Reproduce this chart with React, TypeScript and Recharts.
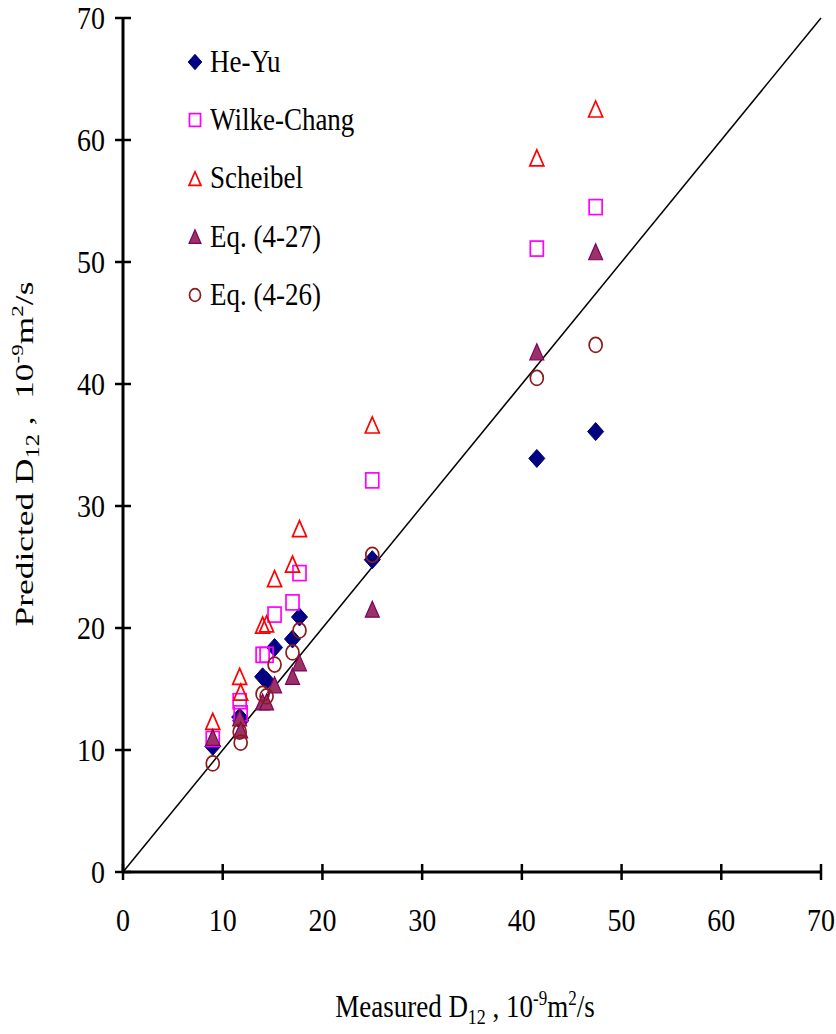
import React from "react";
import {
  Legend,
  ReferenceLine,
  Scatter,
  ScatterChart,
  XAxis,
  YAxis,
} from "recharts";

// measured diffusivities, 10^-9 m2/s
const measured = [9.0, 11.7, 11.8, 14.0, 14.4, 15.2, 17.0, 17.7, 25.0, 41.5, 47.4];

// predicted values for each correlation, same order as measured
const heYu = [10.3, 12.7, 12.4, 16.0, 15.7, 18.4, 19.1, 20.9, 25.6, 33.9, 36.1];
const wilkeChang = [10.9, 14.0, 13.0, 17.8, 17.8, 21.1, 22.1, 24.5, 32.1, 51.1, 54.5];
const scheibel = [12.3, 16.0, 14.7, 20.2, 20.3, 24.0, 25.2, 28.1, 36.6, 58.5, 62.5];
const eq427 = [11.0, 12.6, 11.6, 13.9, 13.9, 15.3, 16.0, 17.1, 21.5, 42.6, 50.8];
const eq426 = [8.9, 11.5, 10.6, 14.6, 14.4, 17.0, 18.0, 19.8, 26.0, 40.5, 43.2];

const axisTicks = [0, 10, 20, 30, 40, 50, 60, 70];

const FONT = "'Liberation Serif', 'Times New Roman', serif";

type Kind = "diamond" | "square" | "triangle" | "filledTriangle" | "circle";

const toPoints = (ys: number[]) => measured.map((x, i) => ({ x, y: ys[i] }));

const series: { name: string; kind: Kind; data: { x: number; y: number }[] }[] = [
  { name: "He-Yu", kind: "diamond", data: toPoints(heYu) },
  { name: "Wilke-Chang", kind: "square", data: toPoints(wilkeChang) },
  { name: "Scheibel", kind: "triangle", data: toPoints(scheibel) },
  { name: "Eq. (4-27)", kind: "filledTriangle", data: toPoints(eq427) },
  { name: "Eq. (4-26)", kind: "circle", data: toPoints(eq426) },
];

function Marker({ kind, cx, cy, scale = 1 }: { kind: Kind; cx: number; cy: number; scale?: number }) {
  const s = scale;
  switch (kind) {
    case "diamond":
      return (
        <polygon
          points={`${cx},${cy - 9 * s} ${cx + 8 * s},${cy} ${cx},${cy + 9 * s} ${cx - 8 * s},${cy}`}
          fill="#000080"
          stroke="#000080"
          strokeWidth={1}
        />
      );
    case "square":
      return (
        <rect
          x={cx - 6.5 * s}
          y={cy - 7.5 * s}
          width={13 * s}
          height={15 * s}
          fill="none"
          stroke="#FF00FF"
          strokeWidth={1.7}
        />
      );
    case "triangle":
      return (
        <polygon
          points={`${cx},${cy - 8.5 * s} ${cx + 7 * s},${cy + 7.5 * s} ${cx - 7 * s},${cy + 7.5 * s}`}
          fill="none"
          stroke="#FF0000"
          strokeWidth={1.7}
        />
      );
    case "filledTriangle":
      return (
        <polygon
          points={`${cx},${cy - 8.5 * s} ${cx + 7 * s},${cy + 7.5 * s} ${cx - 7 * s},${cy + 7.5 * s}`}
          fill="#993366"
          stroke="#800060"
          strokeWidth={1.2}
        />
      );
    default:
      return (
        <ellipse
          cx={cx}
          cy={cy}
          rx={6.5 * s}
          ry={7.5 * s}
          fill="none"
          stroke="#8B1C1C"
          strokeWidth={1.7}
        />
      );
  }
}

const XTick = (props: any) => {
  const { x, y, payload } = props;
  return (
    <g>
      <line x1={x} x2={x} y1={y - 8} y2={y + 8} stroke="#000" strokeWidth={2.5} />
      <text
        transform={`translate(${x}, ${y + 59}) scale(1, 1.12)`}
        textAnchor="middle"
        fontSize={28}
        fill="#000"
        style={{ fontFamily: FONT }}
      >
        {payload.value}
      </text>
    </g>
  );
};

const YTick = (props: any) => {
  const { x, y, payload } = props;
  return (
    <g>
      <line x1={x - 8} x2={x + 8} y1={y} y2={y} stroke="#000" strokeWidth={2.5} />
      <text
        transform={`translate(${x - 18}, ${y + 11}) scale(1, 1.12)`}
        textAnchor="end"
        fontSize={28}
        fill="#000"
        style={{ fontFamily: FONT }}
      >
        {payload.value}
      </text>
    </g>
  );
};

// "D12 , 10-9 m2/s" with sub/superscripts
const unitParts = (gap: string) => [
  <tspan key="a" fontSize={18} dy={6}>12</tspan>,
  <tspan key="b" dy={-6}>{gap}10</tspan>,
  <tspan key="c" fontSize={17} dy={-10}>-9</tspan>,
  <tspan key="d" dy={10}>m</tspan>,
  <tspan key="e" fontSize={17} dy={-10}>2</tspan>,
  <tspan key="f" dy={10}>/s</tspan>,
];

const XTitle = () => (
  <text
    transform="translate(465, 1017) scale(1, 1.2)"
    textAnchor="middle"
    fontSize={27}
    fill="#000"
    style={{ fontFamily: FONT, whiteSpace: "pre" }}
  >
    Measured D{unitParts(" , ")}
  </text>
);

const YTitle = () => (
  <text
    transform="translate(33, 454) rotate(-90) scale(1.36, 1)"
    textAnchor="middle"
    fontSize={26}
    fill="#000"
    style={{ fontFamily: FONT, whiteSpace: "pre" }}
  >
    Predicted D{unitParts(" ,  ")}
  </text>
);

const LegendBox = () => (
  <div style={{ fontFamily: FONT, fontSize: 27, color: "#000" }}>
    {series.map((s) => (
      <div key={s.name} style={{ display: "flex", alignItems: "center", height: 58.3 }}>
        <svg width={24} height={24} style={{ marginRight: 3 }}>
          <Marker kind={s.kind} cx={12} cy={12} scale={0.85} />
        </svg>
        <span style={{ display: "inline-block", transform: "scaleY(1.15)" }}>{s.name}</span>
      </div>
    ))}
  </div>
);

export default function App() {
  return (
    <div style={{ position: "absolute", left: 0, top: 0, fontFamily: FONT }}>
      <ScatterChart width={836} height={1034} margin={{ top: 18, right: 15, bottom: 0, left: 0 }}>
        <XAxis
          type="number"
          dataKey="x"
          domain={[0, 70]}
          ticks={axisTicks}
          interval={0}
          height={162}
          axisLine={{ stroke: "#000", strokeWidth: 3 }}
          tickLine={false}
          tickSize={0}
          tickMargin={0}
          tick={<XTick />}
          label={{ content: () => <XTitle /> }}
        />
        <YAxis
          type="number"
          dataKey="y"
          domain={[0, 70]}
          ticks={axisTicks}
          interval={0}
          width={123}
          axisLine={{ stroke: "#000", strokeWidth: 3 }}
          tickLine={false}
          tickSize={0}
          tickMargin={0}
          tick={<YTick />}
          label={{ content: () => <YTitle /> }}
        />
        <ReferenceLine
          segment={[
            { x: 0, y: 0 },
            { x: 70, y: 70 },
          ]}
          stroke="#000"
          strokeWidth={1.5}
        />
        {series.map((s) => (
          <Scatter
            key={s.name}
            name={s.name}
            data={s.data}
            isAnimationActive={false}
            shape={(p: any) => <Marker kind={s.kind} cx={p.cx} cy={p.cy} />}
          />
        ))}
        <Legend
          layout="vertical"
          align="center"
          verticalAlign="middle"
          wrapperStyle={{ left: 183, top: 33, width: 220 }}
          content={() => <LegendBox />}
        />
      </ScatterChart>
    </div>
  );
}
